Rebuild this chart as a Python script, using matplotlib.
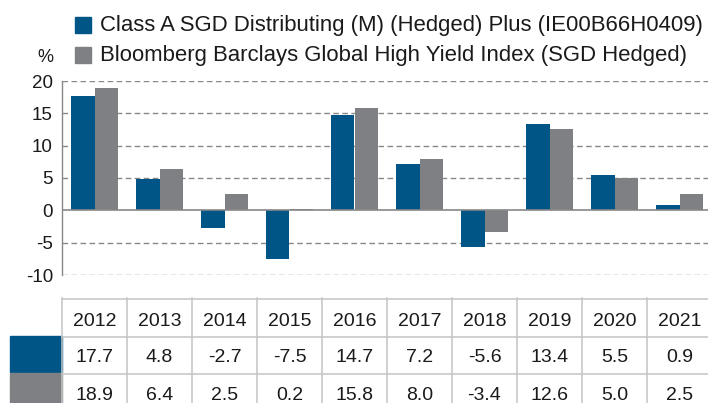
import numpy as np
import matplotlib.pyplot as plt
from matplotlib.patches import Rectangle

plt.rcParams['font.family'] = ['Liberation Sans', 'DejaVu Sans']

# data
years = ["2012", "2013", "2014", "2015", "2016", "2017", "2018", "2019", "2020", "2021"]
fund = [17.7, 4.8, -2.7, -7.5, 14.7, 7.2, -5.6, 13.4, 5.5, 0.9]
index = [18.9, 6.4, 2.5, 0.2, 15.8, 8.0, -3.4, 12.6, 5.0, 2.5]
fund_name = "Class A SGD Distributing (M) (Hedged) Plus (IE00B66H0409)"
index_name = "Bloomberg Barclays Global High Yield Index (SGD Hedged)"
yticks = [-10, -5, 0, 5, 10, 15, 20]

blue = "#005587"
gray = "#7F8084"
gridc = "#888888"
tablec = "#C4C4C4"

W, H = 708, 403
fig = plt.figure(figsize=(W / 100, H / 100), dpi=100)

# main bar chart
ax = fig.add_axes([62 / W, (H - 275) / H, 650 / W, 194 / H])
x = np.arange(len(years))
bw = 0.355
ax.bar(x - bw / 2, fund, width=bw, color=blue, zorder=3)
ax.bar(x + bw / 2, index, width=bw, color=gray, zorder=3)
ax.set_xlim(-0.5, len(years) - 0.5)
ax.set_ylim(-10, 20)
for v in yticks:
    if v == 0:
        ax.axhline(v, color=gridc, lw=1.2, zorder=4)
    else:
        ax.axhline(v, color=gridc, lw=1.0, ls=(0, (4, 2.5)), zorder=1)
ax.set_yticks(yticks)
ax.set_yticklabels([str(v) for v in yticks], fontsize=13.5, color="#1a1a1a")
ax.tick_params(axis="y", length=0, pad=6.5)
ax.set_xticks([])
for s in ["top", "right", "bottom"]:
    ax.spines[s].set_visible(False)
ax.spines["left"].set_color(gridc)
ax.spines["left"].set_linewidth(1.0)

# legend drawn by hand
fig.text(45 / W, 1 - 58 / H, "%", fontsize=13, ha="center", va="center", color="#1a1a1a")
for i, (name, c) in enumerate([(fund_name, blue), (index_name, gray)]):
    yc = 25 + i * 30
    fig.patches.append(Rectangle((75 / W, 1 - (yc + 7.5) / H), 16 / W, 15 / H,
                                 transform=fig.transFigure, color=c))
    fig.text(100 / W, 1 - yc / H, name, fontsize=15.9, va="center", color="#1a1a1a")

# table below
tax = fig.add_axes([62 / W, 0, 650 / W, (H - 298) / H])
tax.set_xlim(-0.5, len(years) - 0.5)
tax.set_ylim(105, 0)
tax.axis("off")
tax.plot([-0.5, len(years)], [0.5, 0.5], color=tablec, lw=1.1, clip_on=False)
for yl in [39, 76]:
    tax.plot([-0.5, len(years)], [yl, yl], color=tablec, lw=1.1, clip_on=False)
for i in range(len(years)):
    tax.plot([i - 0.5, i - 0.5], [0, 110], color=tablec, lw=1.1, clip_on=False)
for i, yr in enumerate(years):
    tax.text(i, 23, yr, ha="center", va="center", fontsize=14, color="#1a1a1a")
    tax.text(i, 59, f"{fund[i]:.1f}", ha="center", va="center", fontsize=14, color="#1a1a1a")
    tax.text(i, 97, f"{index[i]:.1f}", ha="center", va="center", fontsize=14, color="#1a1a1a")
sw = 52 / 65
tax.add_patch(Rectangle((-0.5 - sw, 38), sw, 36, color=blue, clip_on=False))
tax.add_patch(Rectangle((-0.5 - sw, 75), sw, 40, color=gray, clip_on=False))

fig.savefig("out.png", dpi=100)
